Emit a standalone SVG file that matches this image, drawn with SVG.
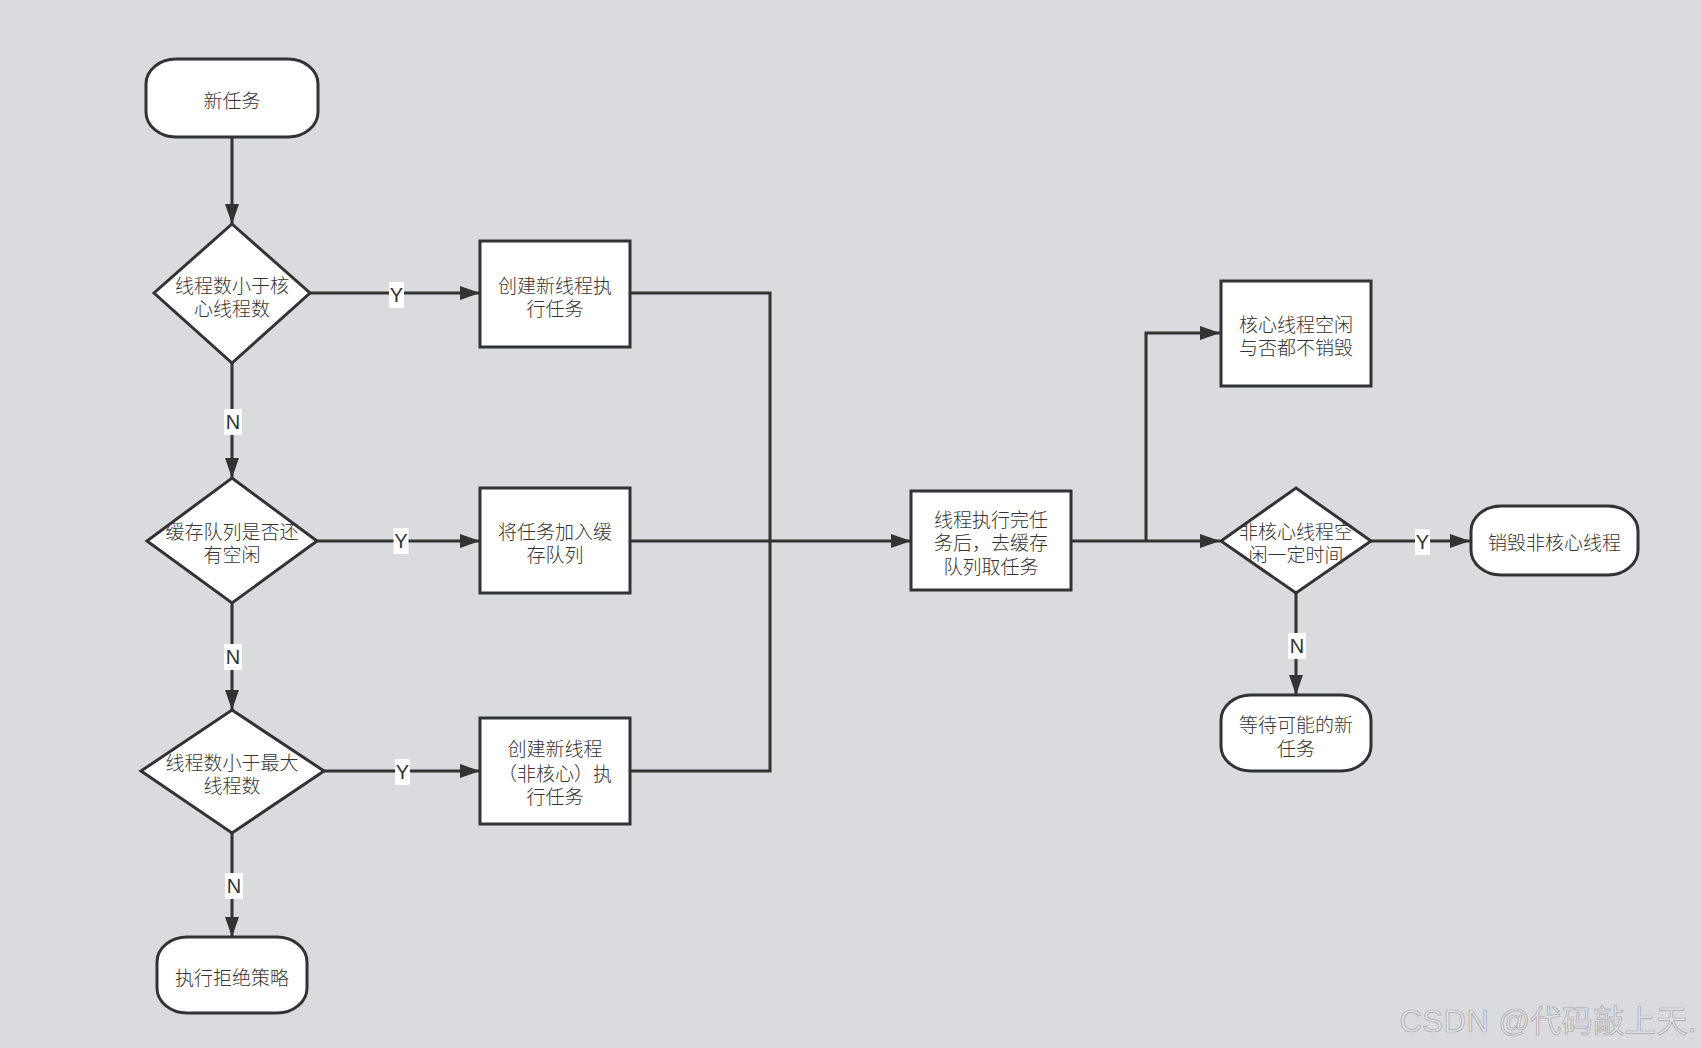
<svg xmlns="http://www.w3.org/2000/svg" width="1701" height="1048" viewBox="0 0 1701 1048">
<defs>
<marker id="ah" markerUnits="userSpaceOnUse" markerWidth="20" markerHeight="14" refX="20" refY="7" orient="auto">
<path d="M0,0 L20,7 L0,14 Z" fill="#333"/>
</marker>
<style>
.shape{fill:#fff;stroke:#333;stroke-width:3}
.t{font-family:"Noto Sans CJK SC","Noto Sans",sans-serif;font-size:19px;font-weight:300;fill:#333;text-anchor:middle;dominant-baseline:central}
.c{fill:none;stroke:#333;stroke-width:3}
.lb{fill:#fff}
.lt{font-family:"Liberation Sans",Arial,sans-serif;font-size:20px;fill:#333;text-anchor:middle;dominant-baseline:central}
</style>
</defs>
<rect x="0" y="0" width="1701" height="1048" fill="#dadbdf"/>

<g id="connectors">
<path class="c" d="M232,137 L232,224" marker-end="url(#ah)"/>
<path class="c" d="M310,293 L480,293" marker-end="url(#ah)"/>
<path class="c" d="M232,363 L232,478" marker-end="url(#ah)"/>
<path class="c" d="M317,541 L480,541" marker-end="url(#ah)"/>
<path class="c" d="M232,603 L232,710" marker-end="url(#ah)"/>
<path class="c" d="M324,771 L480,771" marker-end="url(#ah)"/>
<path class="c" d="M232,833 L232,937" marker-end="url(#ah)"/>
<path class="c" d="M630,293 L770,293 L770,541"/>
<path class="c" d="M630,771 L770,771 L770,541"/>
<path class="c" d="M630,541 L911,541" marker-end="url(#ah)"/>
<path class="c" d="M1071,541 L1220,541" marker-end="url(#ah)"/>
<path class="c" d="M1146,541 L1146,333 L1220,333" marker-end="url(#ah)"/>
<path class="c" d="M1371,541 L1470,541" marker-end="url(#ah)"/>
<path class="c" d="M1296,593 L1296,695" marker-end="url(#ah)"/>
<g id="labels">
<rect class="lb" x="389" y="282" width="15" height="26"/><text class="lt" x="396.5" y="295">Y</text>
<rect class="lb" x="224" y="409" width="18" height="26"/><text class="lt" x="233" y="422">N</text>
<rect class="lb" x="393.5" y="528" width="15" height="26"/><text class="lt" x="401" y="541">Y</text>
<rect class="lb" x="224" y="644" width="18" height="26"/><text class="lt" x="233" y="657">N</text>
<rect class="lb" x="395" y="759" width="15" height="26"/><text class="lt" x="402.5" y="772">Y</text>
<rect class="lb" x="225" y="873" width="18" height="26"/><text class="lt" x="234" y="886">N</text>
<rect class="lb" x="1415" y="529" width="15" height="26"/><text class="lt" x="1422.5" y="542">Y</text>
<rect class="lb" x="1288" y="633" width="18" height="26"/><text class="lt" x="1297" y="646">N</text>
</g>
</g>

<g id="start">
<rect class="shape" x="146" y="59" width="172" height="78" rx="30" ry="25"/>
<text class="t" x="232" y="99">新任务</text>
</g>
<g id="d1">
<polygon class="shape" points="232,224 310,293 232,363 154,293"/>
<text class="t" x="232" y="284">线程数小于核</text>
<text class="t" x="232" y="307">心线程数</text>
</g>
<g id="d2">
<polygon class="shape" points="232,478 317,541 232,603 147,541"/>
<text class="t" x="232" y="530">缓存队列是否还</text>
<text class="t" x="232" y="553">有空闲</text>
</g>
<g id="d3">
<polygon class="shape" points="232,710 324,771 232,833 141,771"/>
<text class="t" x="232" y="761">线程数小于最大</text>
<text class="t" x="232" y="784">线程数</text>
</g>
<g id="reject">
<rect class="shape" x="157" y="937" width="150" height="76" rx="30" ry="25"/>
<text class="t" x="232" y="976">执行拒绝策略</text>
</g>
<g id="b1">
<rect class="shape" x="480" y="241" width="150" height="106"/>
<text class="t" x="555" y="284">创建新线程执</text>
<text class="t" x="555" y="307">行任务</text>
</g>
<g id="b2">
<rect class="shape" x="480" y="488" width="150" height="105"/>
<text class="t" x="555" y="530">将任务加入缓</text>
<text class="t" x="555" y="553">存队列</text>
</g>
<g id="b3">
<rect class="shape" x="480" y="718" width="150" height="106"/>
<text class="t" x="555" y="747">创建新线程</text>
<text class="t" x="555" y="772">（非核心）执</text>
<text class="t" x="555" y="795">行任务</text>
</g>
<g id="b4">
<rect class="shape" x="911" y="491" width="160" height="99"/>
<text class="t" x="991" y="518">线程执行完任</text>
<text class="t" x="991" y="541">务后，去缓存</text>
<text class="t" x="991" y="565">队列取任务</text>
</g>
<g id="b5">
<rect class="shape" x="1221" y="281" width="150" height="105"/>
<text class="t" x="1296" y="323">核心线程空闲</text>
<text class="t" x="1296" y="346">与否都不销毁</text>
</g>
<g id="d4">
<polygon class="shape" points="1296,488 1371,541 1296,593 1221,541"/>
<text class="t" x="1296" y="530">非核心线程空</text>
<text class="t" x="1296" y="553">闲一定时间</text>
</g>
<g id="destroy">
<rect class="shape" x="1471" y="506" width="167" height="69" rx="30" ry="25"/>
<text class="t" x="1554.5" y="541">销毁非核心线程</text>
</g>
<g id="wait">
<rect class="shape" x="1221" y="695" width="150" height="76" rx="30" ry="25"/>
<text class="t" x="1296" y="723">等待可能的新</text>
<text class="t" x="1296" y="747">任务</text>
</g>
<text x="1697" y="1021" text-anchor="end" dominant-baseline="central" font-family="Liberation Sans,Noto Sans CJK SC,sans-serif" font-size="31" fill="#e2e3e6" stroke="#a6a7ab" stroke-width="0.7" letter-spacing="0.5">CSDN @代码敲上天.</text>
</svg>
